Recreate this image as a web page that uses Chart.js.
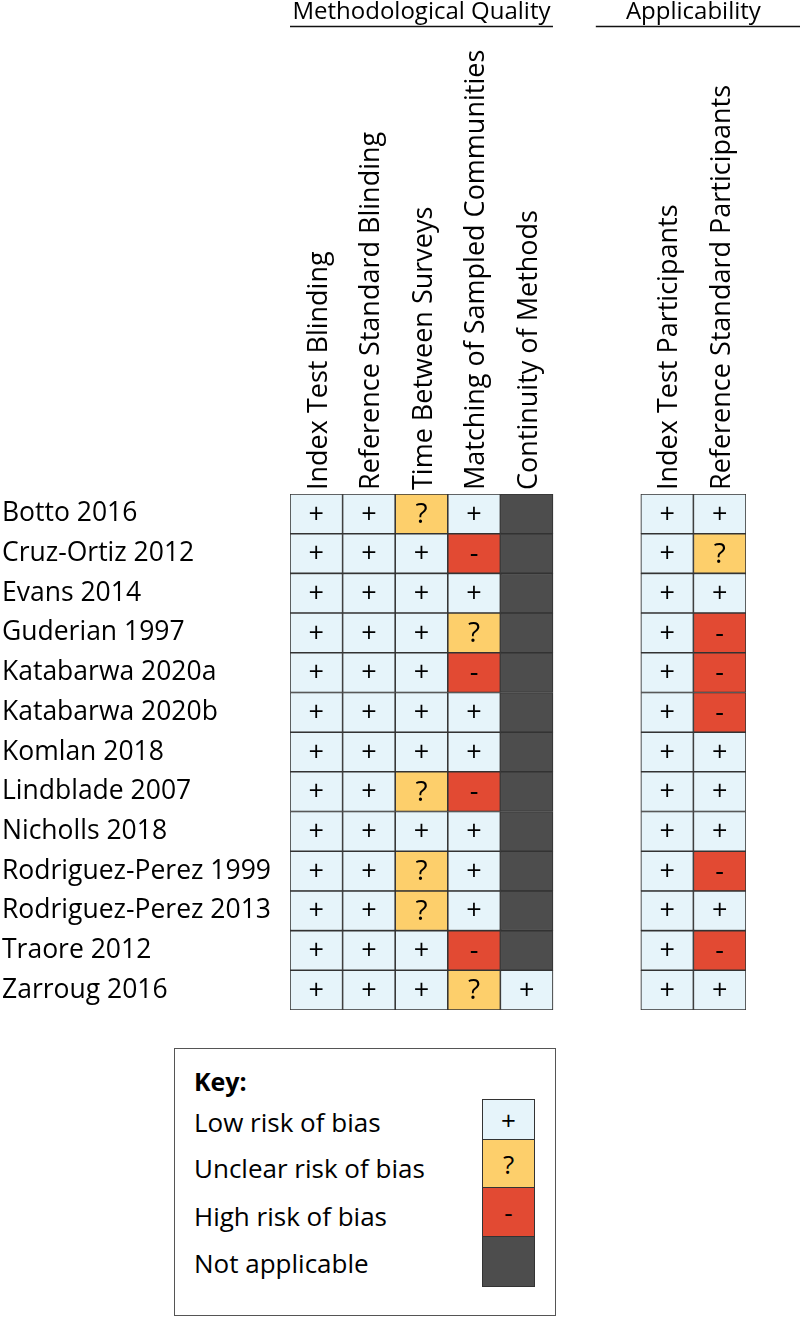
<!DOCTYPE html>
<html>
<head>
<meta charset="utf-8">
<script src="https://cdn.jsdelivr.net/npm/chart.js@4.4.1/dist/chart.umd.min.js"></script>
<style>
  body { margin: 0; background: #fff; font-family: "Open Sans", sans-serif; color: #000; }
  #wrap { position: relative; width: 800px; height: 1321px; }
  #chart { position: absolute; left: 0; top: 0; }
  #key { position: absolute; left: 174px; top: 1048px; width: 382px; height: 268px;
         border: 1.5px solid #555; box-sizing: border-box; }
  #key .title { position: absolute; left: 19px; top: 15px; font-weight: bold; font-size: 25px; }
  #key .lbl { position: absolute; left: 19px; font-size: 26px; line-height: 30px; }
  #key .sw { position: absolute; left: 307px; width: 53px; border: 1.5px solid #333; box-sizing: border-box;
             display: flex; align-items: center; justify-content: center; font-size: 26px; }
</style>
</head>
<body>
<div id="wrap">
  <canvas id="chart" width="800" height="1030"></canvas>
  <div id="key"></div>
</div>
<script>
// studies (rows, top to bottom)
const studies = ['Botto 2016', 'Cruz-Ortiz 2012', 'Evans 2014', 'Guderian 1997', 'Katabarwa 2020a',
  'Katabarwa 2020b', 'Komlan 2018', 'Lindblade 2007', 'Nicholls 2018', 'Rodriguez-Perez 1999',
  'Rodriguez-Perez 2013', 'Traore 2012', 'Zarroug 2016'];

const columns = ['Index Test Blinding', 'Reference Standard Blinding', 'Time Between Surveys',
  'Matching of Sampled Communities', 'Continuity of Methods',
  'Index Test Participants', 'Reference Standard Participants'];
const groups = ['Methodological Quality', 'Applicability'];
const columnGroup = [0, 0, 0, 0, 0, 1, 1];

// ratings per column: '+' low, '?' unclear, '-' high, 'NA' not applicable
const indexTestBlinding    = ['+','+','+','+','+','+','+','+','+','+','+','+','+'];
const refStandardBlinding  = ['+','+','+','+','+','+','+','+','+','+','+','+','+'];
const timeBetweenSurveys   = ['?','+','+','+','+','+','+','?','+','?','?','+','+'];
const matchingCommunities  = ['+','-','+','?','-','+','+','-','+','+','+','-','?'];
const continuityOfMethods  = ['NA','NA','NA','NA','NA','NA','NA','NA','NA','NA','NA','NA','+'];
const indexTestParticip    = ['+','+','+','+','+','+','+','+','+','+','+','+','+'];
const refStandardParticip  = ['+','?','+','-','-','-','+','+','+','-','+','-','+'];
const ratings = [indexTestBlinding, refStandardBlinding, timeBetweenSurveys, matchingCommunities,
  continuityOfMethods, indexTestParticip, refStandardParticip];

const keyCodes  = ['+', '?', '-', 'NA'];
const keyLabels = ['Low risk of bias', 'Unclear risk of bias', 'High risk of bias', 'Not applicable'];

const fills = { '+': '#E6F4FA', '?': '#FDCF6B', '-': '#E24A33', 'NA': '#4D4D4D' };
const FONT = '"Open Sans", sans-serif';
const GAP = 1.67; // space between the two groups, in column widths

const colStart = columns.map((c, i) => i + (columnGroup[i] === 1 ? GAP : 0));
const xMax = colStart[colStart.length - 1] + 1;

const datasets = ratings.map((vals, c) => ({
  label: columns[c],
  data: vals.map(() => [colStart[c], colStart[c] + 1]),
  codes: vals,
  backgroundColor: vals.map(v => fills[v]),
  borderColor: '#333',
  borderWidth: 1.1,
  borderSkipped: false,
  grouped: false,
  barPercentage: 1,
  categoryPercentage: 1
}));

const cellText = {
  id: 'cellText',
  afterDatasetsDraw(chart) {
    const ctx = chart.ctx;
    ctx.save();
    ctx.textAlign = 'center';
    ctx.textBaseline = 'middle';
    ctx.fillStyle = '#000';
    chart.data.datasets.forEach((ds, i) => {
      chart.getDatasetMeta(i).data.forEach((bar, j) => {
        const code = ds.codes[j];
        if (code === 'NA') return;
        const p = bar.getCenterPoint();
        ctx.font = (code === '?' ? '28px ' : '27px ') + FONT;
        ctx.fillText(code, p.x, p.y + 1);
      });
    });
    ctx.restore();
  }
};

const groupHeaders = {
  id: 'groupHeaders',
  afterDraw(chart) {
    const ctx = chart.ctx;
    const x = chart.scales.x;
    ctx.save();
    ctx.fillStyle = '#000';
    ctx.strokeStyle = '#111';
    ctx.lineWidth = 1.3;
    ctx.font = '24px ' + FONT;
    ctx.textAlign = 'center';
    ctx.textBaseline = 'alphabetic';
    groups.forEach((g, gi) => {
      const idx = columnGroup.map((v, i) => v === gi ? i : -1).filter(i => i >= 0);
      const left = x.getPixelForValue(colStart[idx[0]]);
      const right = x.getPixelForValue(colStart[idx[idx.length - 1]] + 1);
      const l = gi === 0 ? left : left - 45;
      const r = gi === 0 ? right : right + 54;
      ctx.fillText(g, (left + right) / 2, 19);
      ctx.beginPath();
      ctx.moveTo(l, 26.5);
      ctx.lineTo(r, 26.5);
      ctx.stroke();
    });
    ctx.restore();
  }
};

new Chart(document.getElementById('chart'), {
  type: 'bar',
  data: { labels: studies, datasets: datasets },
  options: {
    indexAxis: 'y',
    responsive: false,
    animation: false,
    layout: { padding: { left: 2, right: 54, top: 0, bottom: 20 } },
    plugins: { legend: { display: false }, tooltip: { enabled: false } },
    scales: {
      x: {
        type: 'linear',
        position: 'top',
        min: 0,
        max: xMax,
        grid: { display: false },
        border: { display: false },
        afterBuildTicks: axis => { axis.ticks = colStart.map(v => ({ value: v + 0.5 })); },
        afterFit: axis => { axis.height = 494; },
        ticks: {
          autoSkip: false,
          minRotation: 90,
          maxRotation: 90,
          padding: -4,
          labelOffset: 35,
          color: '#000',
          font: { family: FONT, size: 27 },
          callback: (v, i) => columns[i]
        }
      },
      y: {
        type: 'category',
        grid: { display: false },
        border: { display: false },
        afterFit: axis => { axis.width = 288; },
        ticks: {
          crossAlign: 'far',
          color: '#000',
          font: { family: FONT, size: 26.5 }
        }
      }
    }
  },
  plugins: [cellText, groupHeaders]
});

// key box
const key = document.getElementById('key');
let html = '<div class="title">Key:</div>';
const lblTop = [58, 104, 152, 199];
const swTop = [50, 90, 138, 187, 237];
keyLabels.forEach((t, i) => {
  html += '<div class="lbl" style="top:' + lblTop[i] + 'px">' + t + '</div>';
  html += '<div class="sw" style="top:' + swTop[i] + 'px;height:' + (swTop[i + 1] - swTop[i] + 1) +
    'px;background:' + fills[keyCodes[i]] + '">' + (keyCodes[i] === 'NA' ? '' : keyCodes[i]) + '</div>';
});
key.innerHTML = html;
</script>
</body>
</html>
